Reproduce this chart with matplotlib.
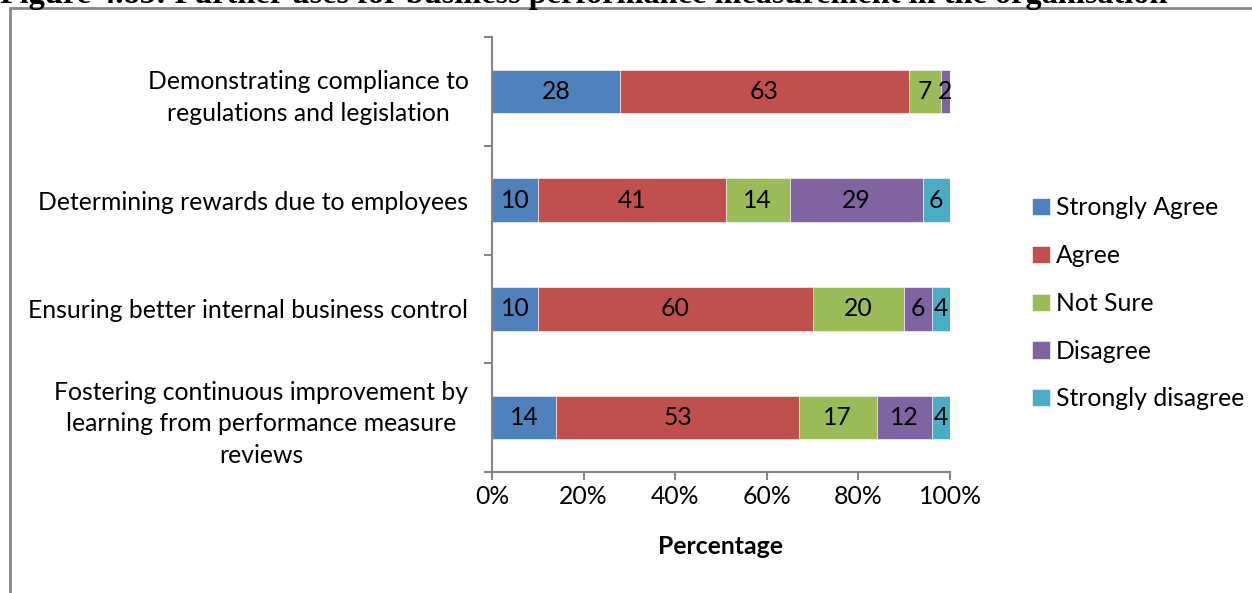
import matplotlib
matplotlib.use("Agg")
import matplotlib.pyplot as plt
from matplotlib.patches import Rectangle
from matplotlib.ticker import FixedLocator, PercentFormatter

# Survey responses (percent of respondents)
categories = [
    "Demonstrating compliance to\nregulations and legislation",
    "Determining rewards due to employees",
    "Ensuring better internal business control",
    "Fostering continuous improvement by\nlearning from performance measure\nreviews",
]
series_names = ["Strongly Agree", "Agree", "Not Sure", "Disagree", "Strongly disagree"]
strongly_agree = [28, 10, 10, 14]
agree = [63, 41, 60, 53]
not_sure = [7, 14, 20, 17]
disagree = [2, 29, 6, 12]
strongly_disagree = [0, 6, 4, 4]
series_values = [strongly_agree, agree, not_sure, disagree, strongly_disagree]
colors = ["#4F81BD", "#C0504D", "#9BBB59", "#8064A2", "#4BACC6"]
x_ticks = [0, 20, 40, 60, 80, 100]

title = "Figure 4.85: Further uses for business performance measurement in the organisation"

W, H = 1252, 593
fig = plt.figure(figsize=(W / 100, H / 100), dpi=100)
font = "Lato"
fs = 17.8

ax = fig.add_axes([492 / W, 1 - 472 / H, (950 - 492) / W, (472 - 37) / H])

ypos = list(range(len(categories)))
left = [0] * len(categories)
handles = []
for name, vals, col in zip(series_names, series_values, colors):
    bars = ax.barh(ypos, vals, left=left, height=0.4, color=col,
                   edgecolor="white", linewidth=0.4, label=name)
    handles.append(bars)
    for y, v, l in zip(ypos, vals, left):
        if v > 0:
            ax.text(l + v / 2, y, f"{v}", ha="center", va="center",
                    fontsize=fs, family=font, color="black")
    left = [a + b for a, b in zip(left, vals)]

ax.set_xlim(0, 100)
ax.set_ylim(len(categories) - 0.5, -0.5)
ax.xaxis.set_major_locator(FixedLocator(x_ticks))
ax.xaxis.set_major_formatter(PercentFormatter(decimals=0))
ax.yaxis.set_major_locator(FixedLocator(ypos))
ax.set_yticklabels(categories, family=font, fontsize=fs, ha="right",
                   multialignment="center", linespacing=1.45)
for lbl in ax.get_yticklabels():
    lbl.set_va("center_baseline")
ax.yaxis.set_minor_locator(FixedLocator([i - 0.5 for i in range(len(categories) + 1)]))
ax.tick_params(axis="y", which="major", length=0, pad=17)
ax.tick_params(axis="y", which="minor", length=6, width=1.5, color="#868686",
               direction="out")
ax.tick_params(axis="x", which="major", length=6, width=1.5, color="#868686",
               direction="out", pad=3, labelsize=fs)
for lbl in ax.get_xticklabels():
    lbl.set_family(font)

for side in ["top", "right"]:
    ax.spines[side].set_visible(False)
for side in ["left", "bottom"]:
    ax.spines[side].set_color("#868686")
    ax.spines[side].set_linewidth(1.5)

ax.set_xlabel("Percentage", family=font, fontsize=fs, fontweight="bold", labelpad=20)

leg = fig.legend(handles=handles, labels=series_names, loc="upper left",
                 bbox_to_anchor=(1020 / W, 1 - 184 / H), frameon=False,
                 prop={"family": font, "size": fs}, handlelength=0.7,
                 handleheight=0.7, handletextpad=0.25, labelspacing=1.0,
                 borderpad=0)

# Frame around the chart area
fig.patches.append(Rectangle((10 / W, -0.05), 1.2, 1 - 8 / H + 0.05,
                             transform=fig.transFigure, fill=False,
                             edgecolor="#878787", linewidth=2))

# Caption above the chart
fig.text(0, 1 - 2.5 / H, title, family="Liberation Serif", fontweight="bold",
         fontsize=23.2, va="baseline", ha="left")

fig.savefig("out.png", dpi=100)
